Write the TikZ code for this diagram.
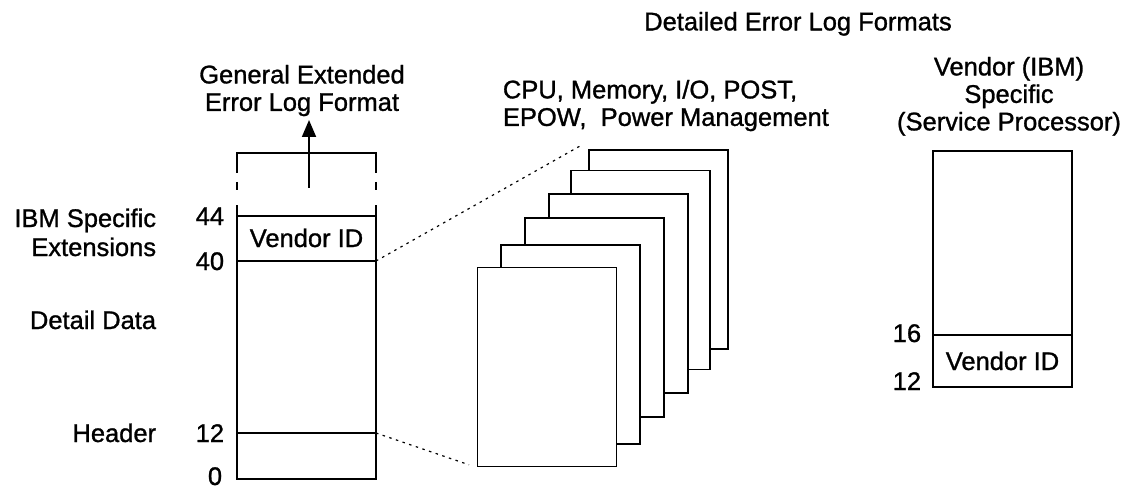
\documentclass[tikz,border=0pt]{standalone}
\usepackage{fontspec}
\setmainfont{Liberation Sans}[BoldFont={Liberation Sans},
  BoldFeatures={FakeBold=1.1}]
\usetikzlibrary{positioning,arrows.meta,calc}
\tikzstyle{page}  = [rectangle, draw, fill=white, minimum width=139pt,
                     minimum height=199pt, inner sep=0pt]
\tikzstyle{lbl}   = [inner sep=0pt, anchor=base east]
\tikzstyle{title} = [inner sep=0pt, align=center, anchor=north]
\tikzstyle{dots}  = [draw, line width=1.2pt, dash pattern=on 2.5pt off 4.5pt]
\tikzstyle{arrow} = [line width=1.8pt, -{Triangle[length=17pt,width=14pt]}]

\begin{document}
\begin{tikzpicture}[x=1pt, y=-1pt, line width=1.8pt,
			every node/.style={font=\fontsize{25.5}{27.5}\selectfont\bfseries}]
		\useasboundingbox (0,0) rectangle (1137,489);

		% general extended error log
		\coordinate (g12w) at (237,433);
		\coordinate (g12e) at (376,433);
		\coordinate (g40w) at (237,261);
		\coordinate (g40e) at (376,261);
		\coordinate (g44w) at (237,216);
		\coordinate (g44e) at (376,216);
		\draw (237,205) -- (237,479) -- (376,479) -- (376,205);
		\draw (237,173) -- (237,153) -- (376,153) -- (376,173);
		\draw (237,182) -- (237,190) (376,182) -- (376,190);
		\draw (g12w) -- (g12e);
		\draw (g40w) -- (g40e);
		\draw (g44w) -- (g44e);
		\node[inner sep=0pt, anchor=base] (vid1) at (306.5,247) {Vendor ID};

		\node[lbl] (n44) at (225,225) {44};
		\node[lbl] (n40) at (225,270) {40};
		\node[lbl] (n12) at (225,442) {12};
		\node[lbl] (n0)  at (223,485) {0};
		\node[lbl] (ibm) at (157,227) {IBM Specific};
		\node[lbl] (ext) at (157,256) {Extensions};
		\node[lbl] (dd)  at (157,329) {Detail Data};
		\node[lbl] (hdr) at (157,442) {Header};

		\node[title] (gen) at (302,64) {General Extended\\Error Log Format};
		\coordinate (up0) at (309,188);
		\coordinate (up1) at (309,120);
		\draw[arrow] (up0) -- (up1);

		% detailed formats
		\node[title] (det) at (798,11) {Detailed Error Log Formats};
		\node[title, align=left, anchor=north west] (cpu) at (502,79)
			{CPU, Memory, I/O, POST,\\EPOW,\ \ Power Management};
		\foreach \n/\x/\y in {6/658.5/249.5, 5/640.5/270, 4/618.5/293.5,
				3/594.5/317.5, 2/570.5/344.5, 1/547/367}
			\node[page] (p\n) at (\x,\y) {};
		\coordinate (dtop) at (580,146);
		\draw[dots] (g40e) -- (dtop);
		\draw[dots, shorten >=8pt] (g12e) -- (p1.south west);

		% vendor specific
		\node[title] (ven) at (1009,56) {Vendor (IBM)\\Specific\\(Service Processor)};
		\draw (933,151) rectangle (1072,387);
		\draw (933,335) -- (1072,335);
		\node[inner sep=0pt, anchor=base] (vid2) at (1002.5,370) {Vendor ID};
		\node[lbl] (n16) at (922,342) {16};
		\node[lbl] (m12) at (922,390) {12};
	\end{tikzpicture}
\end{document}
